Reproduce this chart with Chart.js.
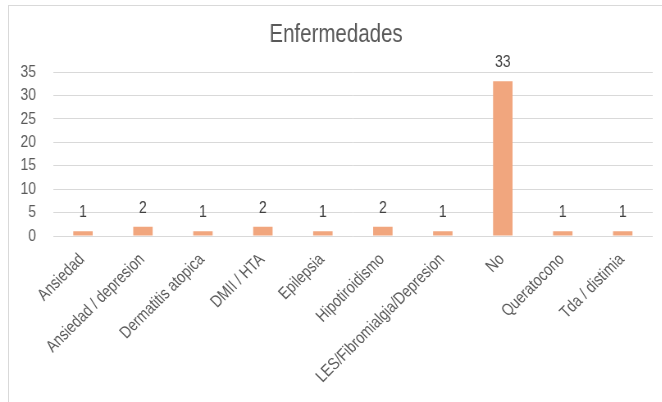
<!DOCTYPE html>
<html>
<head>
<meta charset="utf-8">
<script src="https://cdn.jsdelivr.net/npm/chart.js@4.4.1/dist/chart.umd.min.js"></script>
<style>
  html, body { margin: 0; padding: 0; background: #fff; overflow: hidden; }
  #frame { position: absolute; left: 8px; top: 5px; width: 700px; height: 440px; border: 1px solid #d9d9d9; }
  /* the original chart uses a condensed face, so squeeze the whole canvas */
  #wrap { position: absolute; left: 0; top: 0; width: 807px; height: 402px; transform: scaleX(0.82); transform-origin: 0 0; }
</style>
</head>
<body>
<div id="frame"></div>
<div id="wrap"><canvas id="chart"></canvas></div>
<script>
const categories = ['Ansiedad', 'Ansiedad / depresion', 'Dermatitis atopica', 'DMII / HTA', 'Epilepsia',
  'Hipotiroidismo', 'LES/Fibromialgia/Depresion', 'No', 'Queratocono', 'Tda / distimia'];
const counts = [1, 2, 1, 2, 1, 2, 1, 33, 1, 1];
const yTicks = [0, 5, 10, 15, 20, 25, 30, 35];

const SQUEEZE = 0.82;
const FONT = "'Liberation Sans', Arial, sans-serif";
const TEXT = '#595959';

// value above each bar
const valueLabels = {
  id: 'valueLabels',
  afterDatasetsDraw(chart) {
    const ctx = chart.ctx;
    const meta = chart.getDatasetMeta(0);
    ctx.save();
    ctx.font = '17px ' + FONT;
    ctx.fillStyle = '#404040';
    ctx.textAlign = 'center';
    ctx.textBaseline = 'alphabetic';
    meta.data.forEach((bar, i) => {
      ctx.fillText(String(counts[i]), bar.x, bar.y - 14);
    });
    ctx.restore();
  }
};

// category labels at 45deg; undo the css squeeze so the glyphs are not sheared
const rotatedLabels = {
  id: 'rotatedLabels',
  afterDraw(chart) {
    const ctx = chart.ctx;
    const xs = chart.scales.x;
    const c = Math.SQRT1_2;
    ctx.save();
    ctx.font = '17px ' + FONT;
    ctx.fillStyle = TEXT;
    ctx.textAlign = 'right';
    ctx.textBaseline = 'middle';
    categories.forEach((name, i) => {
      const x = xs.getPixelForTick(i) - 1 / SQUEEZE;
      const y = chart.chartArea.bottom + 21;
      ctx.save();
      ctx.translate(x, y);
      ctx.transform(c, -c * SQUEEZE, c / SQUEEZE, c, 0, 0);
      ctx.fillText(name, 0, 0);
      ctx.restore();
    });
    ctx.restore();
  }
};

const ctx = document.getElementById('chart').getContext('2d');
new Chart(ctx, {
  type: 'bar',
  data: {
    labels: categories,
    datasets: [{
      data: counts,
      backgroundColor: '#F1A67E',
      barPercentage: 0.9,
      categoryPercentage: 0.36
    }]
  },
  options: {
    responsive: true,
    maintainAspectRatio: false,
    animation: false,
    layout: { padding: { top: 20, right: 11, left: 23.6, bottom: 166 } },
    plugins: {
      legend: { display: false },
      tooltip: { enabled: false },
      title: {
        display: true,
        text: 'Enfermedades',
        color: TEXT,
        font: { family: FONT, size: 25, weight: 'normal' },
        padding: { top: 0, bottom: 22 }
      }
    },
    scales: {
      x: {
        grid: { display: false, drawTicks: false },
        border: { display: false },
        ticks: { display: false }
      },
      y: {
        min: 0,
        max: 35,
        afterBuildTicks(scale) {
          scale.ticks = yTicks.map(v => ({ value: v }));
        },
        afterFit(scale) {
          scale.width = 41;
        },
        grid: { color: '#d9d9d9', drawTicks: false },
        border: { display: false },
        ticks: {
          color: TEXT,
          font: { family: FONT, size: 17 },
          autoSkip: false,
          padding: 20.7
        }
      }
    }
  },
  plugins: [valueLabels, rotatedLabels]
});
</script>
</body>
</html>
